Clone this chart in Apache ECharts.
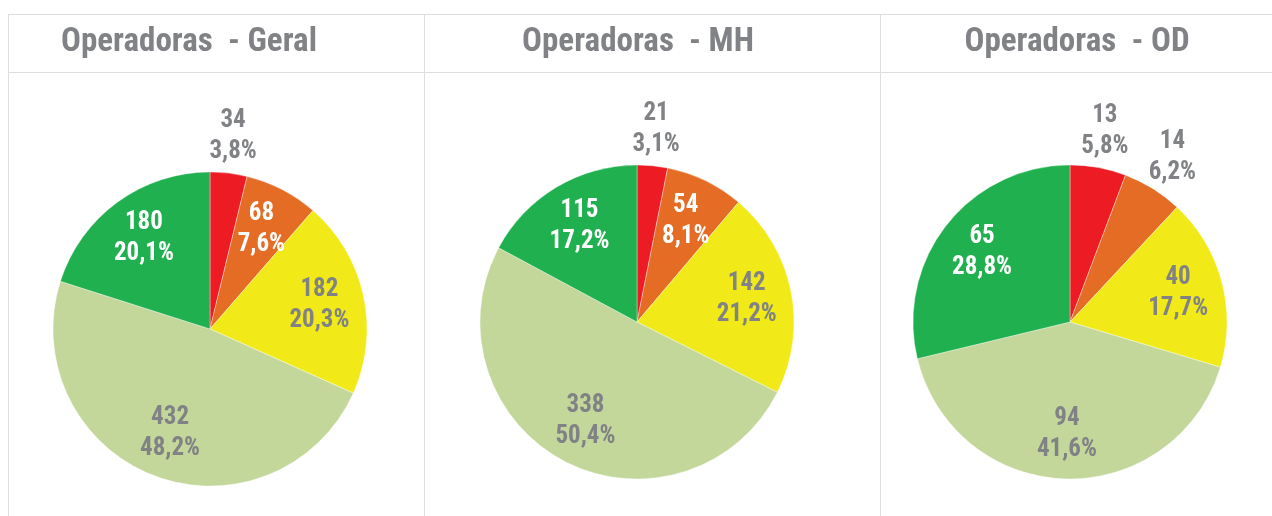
<!DOCTYPE html>
<html><head><meta charset="utf-8">
<script src="https://cdn.jsdelivr.net/npm/echarts@6/dist/echarts.min.js"></script>
<style>html,body{margin:0;padding:0;background:#fff}#c{width:1272px;height:516px}</style>
</head><body><div id="c"></div>
<script>
// ---- data ----
const categories = ['Crítico', 'Alto', 'Médio', 'Baixo', 'Muito baixo'];
const panelTitles = ['Operadoras  - Geral', 'Operadoras  - MH', 'Operadoras  - OD'];
const geralValues = [34, 68, 182, 432, 180];
const mhValues = [21, 54, 142, 338, 115];
const odValues = [13, 14, 40, 94, 65];

// ---- style ----
const sliceColors = ['#ED1C24', '#E46C25', '#F1EA18', '#C4D79B', '#21B04F'];
const insideLabelColors = ['#ffffff', '#ffffff', '#808285', '#808285', '#ffffff'];
const gray = '#808285';
const lineColor = '#DEDEDE';
const FONT = "'Roboto Condensed', 'DejaVu Sans Condensed', sans-serif";

const panels = [
  { title: panelTitles[0], values: geralValues, center: [210, 329], titleX: 189 },
  { title: panelTitles[1], values: mhValues, center: [637, 322], titleX: 638 },
  { title: panelTitles[2], values: odValues, center: [1070, 322], titleX: 1077 }
];
const R = 157;
const OUTSIDE_THRESHOLD = 7; // percent below which label sits outside

function pctText(v, total) {
  return (v / total * 100).toFixed(1).replace('.', ',') + '%';
}

const series = [];
panels.forEach(function (p) {
  const total = p.values.reduce(function (a, b) { return a + b; }, 0);
  const isOut = p.values.map(function (v) { return v / total * 100 < OUTSIDE_THRESHOLD; });
  const labelBase = {
    fontFamily: FONT, fontWeight: 'bold', fontSize: 25, lineHeight: 31,
    formatter: function (prm) { return prm.value + '\n' + pctText(prm.value, total); }
  };
  // the pie itself
  series.push({
    type: 'pie', center: p.center, radius: [0, R], startAngle: 90, clockwise: true,
    silent: true, label: { show: false }, labelLine: { show: false },
    itemStyle: { borderColor: 'rgba(255,255,255,0.6)', borderWidth: 0.6 },
    data: p.values.map(function (v, i) {
      return { name: categories[i], value: v, itemStyle: { color: sliceColors[i] } };
    })
  });
  // inside labels
  series.push({
    type: 'pie', center: p.center, radius: [61, R], startAngle: 90, clockwise: true,
    silent: true, avoidLabelOverlap: false, labelLine: { show: false },
    itemStyle: { color: 'rgba(0,0,0,0)' },
    label: Object.assign({ show: true, position: 'inside' }, labelBase),
    data: p.values.map(function (v, i) {
      return { name: categories[i], value: v,
        label: { show: !isOut[i], color: insideLabelColors[i] } };
    })
  });
  // outside labels
  series.push({
    type: 'pie', center: p.center, radius: [R, 225], startAngle: 90, clockwise: true,
    silent: true, avoidLabelOverlap: false, labelLine: { show: false },
    itemStyle: { color: 'rgba(0,0,0,0)' },
    label: Object.assign({ show: true, position: 'inside', color: gray }, labelBase),
    data: p.values.map(function (v, i) {
      return { name: categories[i], value: v, label: { show: isOut[i] } };
    })
  });
});

const graphics = [
  { type: 'line', shape: { x1: 8, y1: 14.5, x2: 1272, y2: 14.5 }, style: { stroke: lineColor, lineWidth: 1 } },
  { type: 'line', shape: { x1: 8, y1: 72.5, x2: 1272, y2: 72.5 }, style: { stroke: lineColor, lineWidth: 1 } },
  { type: 'line', shape: { x1: 8.5, y1: 14, x2: 8.5, y2: 516 }, style: { stroke: lineColor, lineWidth: 1 } },
  { type: 'line', shape: { x1: 424.5, y1: 14, x2: 424.5, y2: 516 }, style: { stroke: lineColor, lineWidth: 1 } },
  { type: 'line', shape: { x1: 880.5, y1: 14, x2: 880.5, y2: 516 }, style: { stroke: lineColor, lineWidth: 1 } }
];
panels.forEach(function (p) {
  graphics.push({
    type: 'text', x: p.titleX, y: 43,
    style: { text: p.title, fill: gray, font: 'bold 33px ' + FONT, textAlign: 'center', textVerticalAlign: 'middle' }
  });
});

const chart = echarts.init(document.getElementById('c'), null, { renderer: 'canvas' });
chart.setOption({
  animation: false,
  backgroundColor: '#ffffff',
  graphic: graphics,
  series: series
});
</script>
</body></html>
